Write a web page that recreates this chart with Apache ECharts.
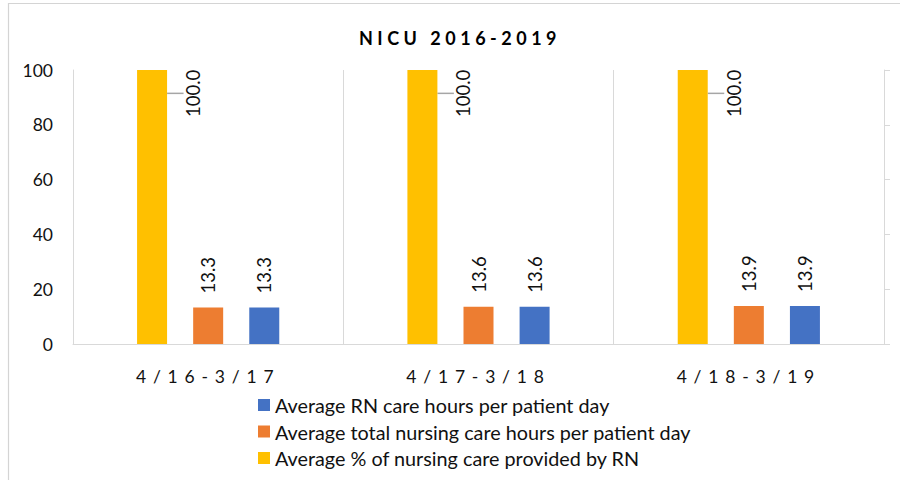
<!DOCTYPE html>
<html>
<head>
<meta charset="utf-8">
<script src="https://cdn.jsdelivr.net/npm/echarts@6/dist/echarts.min.js"></script>
<style>
  html, body { margin: 0; padding: 0; background: #fff; }
  #chart { width: 900px; height: 480px; }
</style>
</head>
<body>
<div id="chart"></div>
<script>
const titleText = 'NICU 2016-2019';
const categories = ['4/16-3/17', '4/17-3/18', '4/18-3/19'];
const pctByRN = [100.0, 100.0, 100.0];
const totalNursingHours = [13.3, 13.6, 13.9];
const rnCareHours = [13.3, 13.6, 13.9];
const seriesNames = [
  'Average % of nursing care provided by RN',
  'Average total nursing care hours per patient day',
  'Average RN care hours per patient day'
];
const yMin = 0, yMax = 100, yInterval = 20;

const FONT = 'Lato, "Open Sans", sans-serif';
const TXT = '#111';
const GRID_LINE = '#d9d9d9';

const chart = echarts.init(document.getElementById('chart'), null, { renderer: 'svg' });

const valueLabel = {
  show: true,
  position: 'top',
  rotate: 90,
  align: 'left',
  verticalAlign: 'middle',
  distance: 14,
  fontFamily: FONT,
  fontSize: 18.5,
  color: TXT,
  formatter: p => p.value.toFixed(1)
};

const option = {
  animation: false,
  backgroundColor: '#fff',
  textStyle: { fontFamily: FONT },
  graphic: [{
    type: 'rect',
    silent: true,
    shape: { x: 8.5, y: 3.5, width: 1000, height: 1000 },
    style: { fill: 'none', stroke: '#d4d4d4', lineWidth: 1.2 }
  }],
  title: {
    text: titleText,
    left: 460,
    textAlign: 'center',
    top: 29,
    padding: 0,
    textStyle: { fontFamily: FONT, fontSize: 18, fontWeight: 'bold', color: '#000' }
  },
  legend: {
    orient: 'vertical',
    left: 258,
    top: 395,
    padding: 0,
    itemWidth: 12,
    itemHeight: 12,
    itemGap: 6.5,
    icon: 'rect',
    data: [seriesNames[2], seriesNames[1], seriesNames[0]],
    textStyle: { fontFamily: FONT, fontSize: 19.8, color: TXT }
  },
  grid: { left: 73, right: 16, top: 70, bottom: 136, containLabel: false },
  xAxis: {
    type: 'category',
    data: categories,
    axisLine: { show: true, lineStyle: { color: GRID_LINE, width: 1 } },
    axisTick: { show: false },
    splitLine: { show: true, interval: 0, lineStyle: { color: GRID_LINE, width: 1 } },
    axisLabel: { fontFamily: FONT, fontSize: 17.5, color: TXT, margin: 23 }
  },
  yAxis: [{
    type: 'value',
    min: yMin, max: yMax, interval: yInterval,
    axisLine: { show: true, lineStyle: { color: GRID_LINE } },
    axisTick: { show: false },
    splitLine: { show: false },
    axisLabel: { fontFamily: FONT, fontSize: 17.5, color: TXT, margin: 20 }
  }, {
    type: 'value',
    position: 'right',
    min: yMin, max: yMax, interval: yInterval,
    axisLine: { show: true, lineStyle: { color: GRID_LINE } },
    axisTick: { show: true, length: 6, lineStyle: { color: GRID_LINE } },
    axisLabel: { show: false },
    splitLine: { show: false }
  }],
  series: [{
    name: seriesNames[0],
    type: 'bar',
    data: pctByRN,
    barWidth: 30,
    barGap: '87%',
    itemStyle: { color: '#FFC000' },
    label: Object.assign({}, valueLabel, { distance: 5 }),
    labelLayout: { dx: -52, dy: 41 },
    labelLine: { show: true, lineStyle: { color: '#a6a6a6', width: 1.5 } }
  }, {
    name: seriesNames[1],
    type: 'bar',
    data: totalNursingHours,
    barWidth: 30,
    barGap: '87%',
    itemStyle: { color: '#ED7D31' },
    label: valueLabel
  }, {
    name: seriesNames[2],
    type: 'bar',
    data: rnCareHours,
    barWidth: 30,
    barGap: '87%',
    itemStyle: { color: '#4472C4' },
    label: valueLabel
  }]
};

chart.setOption(option);

function applySpacing() {
  const texts = document.querySelectorAll('#chart svg text');
  texts.forEach(t => {
    const s = t.textContent;
    if (s === titleText) {
      t.style.letterSpacing = '4.5px';
    } else if (categories.indexOf(s) >= 0) {
      t.style.letterSpacing = '6.8px';
    }
  });
}
applySpacing();
chart.on('finished', applySpacing);
</script>
</body>
</html>
